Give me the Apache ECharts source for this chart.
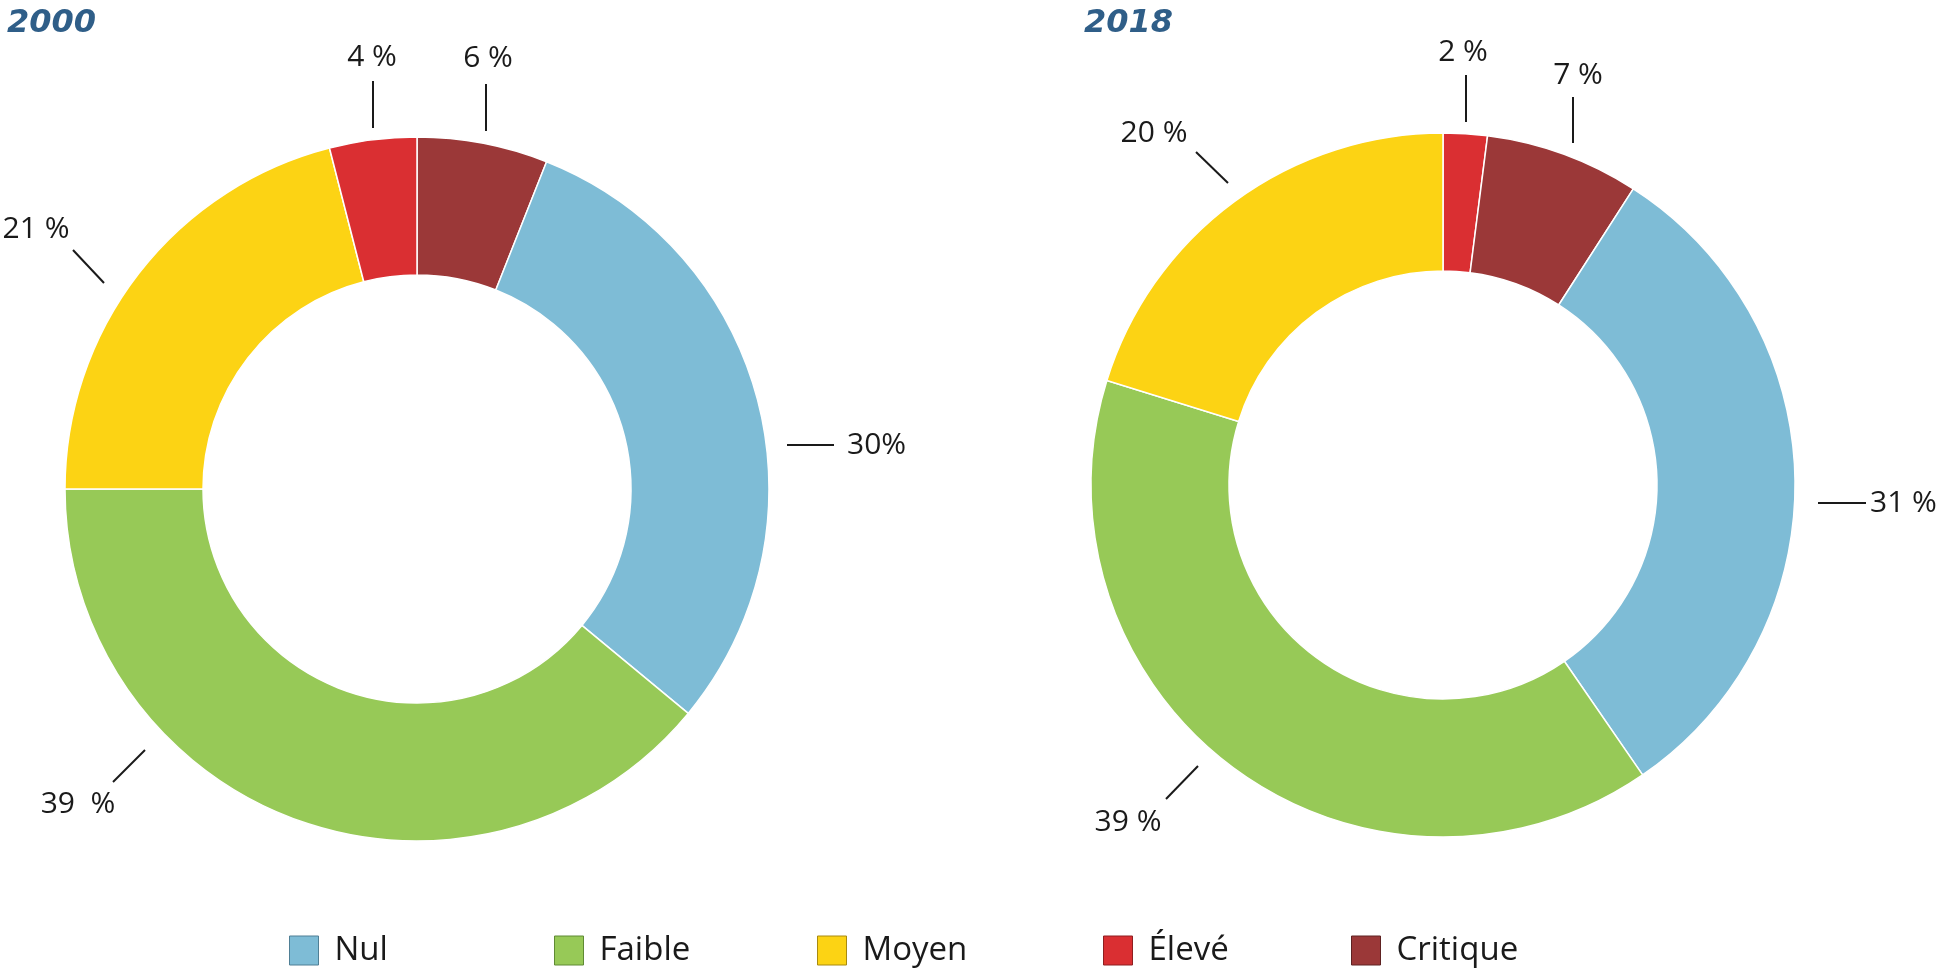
<!DOCTYPE html>
<html>
<head>
<meta charset="utf-8">
<script src="https://cdn.jsdelivr.net/npm/echarts@6/dist/echarts.min.js"></script>
<style>
html,body{margin:0;padding:0;background:#fff;}
#chart{width:1944px;height:976px;}
</style>
</head>
<body>
<div id="chart"></div>
<script>
// ---- data ----
const categories = ['Nul', 'Faible', 'Moyen', 'Élevé', 'Critique'];
const titles = ['2000', '2018'];
// 2000 (clockwise from top)
const names2000 = ['Critique', 'Nul', 'Faible', 'Moyen', 'Élevé'];
const values2000 = [6, 30, 39, 21, 4];
const labels2000 = ['6 %', '30%', '39  %', '21 %', '4 %'];
// 2018 (clockwise from top)
const names2018 = ['Élevé', 'Critique', 'Nul', 'Faible', 'Moyen'];
const values2018 = [2, 7, 31, 39, 20];
const labels2018 = ['2 %', '7 %', '31 %', '39 %', '20 %'];

// ---- styles / layout ----
const colors = {
  'Nul': '#7EBCD6',
  'Faible': '#97C957',
  'Moyen': '#FCD314',
  'Élevé': '#DA2F32',
  'Critique': '#9B3838'
};
const legendBorder = {
  'Nul': '#4f7f95', 'Faible': '#5f8a34', 'Moyen': '#a88a10', 'Élevé': '#8e1f20', 'Critique': '#5e2222'
};
const centers = [[417, 489], [1443, 485]];
const radii = [214, 352];
// annotation placement relative to pie centre: line start, line end, label anchor, label align
const annot = [
  [
    {l: [[69, -358], [69, -405]], t: [71, -431], a: 'center'},
    {l: [[370, -44], [417, -44]], t: [430, -44], a: 'left'},
    {l: [[-272, 261], [-304, 293]], t: [-339, 315], a: 'center'},
    {l: [[-313, -206], [-344, -239]], t: [-381, -260], a: 'center'},
    {l: [[-44, -361], [-44, -408]], t: [-45, -432], a: 'center'}
  ],
  [
    {l: [[23, -363], [23, -410]], t: [20, -433], a: 'center'},
    {l: [[130, -342], [130, -388]], t: [135, -410], a: 'center'},
    {l: [[375, 18], [423, 18]], t: [427, 18], a: 'left'},
    {l: [[-245, 281], [-277, 314]], t: [-315, 337], a: 'center'},
    {l: [[-215, -302], [-247, -333]], t: [-289, -352], a: 'center'}
  ]
];
const legendLeft = [289, 554, 817, 1103, 1351];
const FONT = '"Open Sans", "DejaVu Sans", sans-serif';

function makeSeries(idx, names, values, labels) {
  const c = centers[idx];
  return {
    type: 'pie',
    center: c,
    radius: radii,
    startAngle: 90,
    clockwise: true,
    avoidLabelOverlap: false,
    itemStyle: {borderColor: '#fff', borderWidth: 1.5},
    data: names.map((n, i) => ({
      name: n,
      value: values[i],
      itemStyle: {color: colors[n]},
      label: {formatter: labels[i]}
    })),
    label: {
      show: true,
      position: 'outside',
      color: '#1a1a1a',
      fontFamily: FONT,
      fontSize: 30,
      fontWeight: 400
    },
    labelLine: {show: true, length: 10, length2: 10, lineStyle: {color: '#1a1a1a', width: 2}},
    emphasis: {scale: false},
    labelLayout: function (p) {
      const a = annot[idx][p.dataIndex];
      return {
        x: c[0] + a.t[0],
        y: c[1] + a.t[1],
        align: a.a,
        verticalAlign: 'middle',
        labelLinePoints: a.l.map(pt => [c[0] + pt[0], c[1] + pt[1]])
      };
    }
  };
}

const chart = echarts.init(document.getElementById('chart'), null, {renderer: 'canvas'});
const option = {
  backgroundColor: '#ffffff',
  animation: false,
  title: titles.map((t, i) => ({
    text: t,
    left: i === 0 ? 7 : 1084,
    top: 8,
    padding: 0,
    textStyle: {
      fontFamily: '"DejaVu Sans", sans-serif', fontStyle: 'italic', fontWeight: 'bold',
      fontSize: 32, color: '#2F5E88'
    }
  })),
  legend: categories.map((n, i) => ({
    data: [{name: n, itemStyle: {color: colors[n], borderColor: legendBorder[n], borderWidth: 1}}],
    left: legendLeft[i],
    top: 934,
    padding: 0,
    icon: 'rect',
    itemWidth: 29,
    itemHeight: 29,
    selectedMode: false,
    textStyle: {fontFamily: FONT, fontSize: 33, color: '#1a1a1a', padding: [0, 0, 0, 11]}
  })),
  series: [
    makeSeries(0, names2000, values2000, labels2000),
    makeSeries(1, names2018, values2018, labels2018)
  ]
};
chart.setOption(option);
</script>
</body>
</html>
